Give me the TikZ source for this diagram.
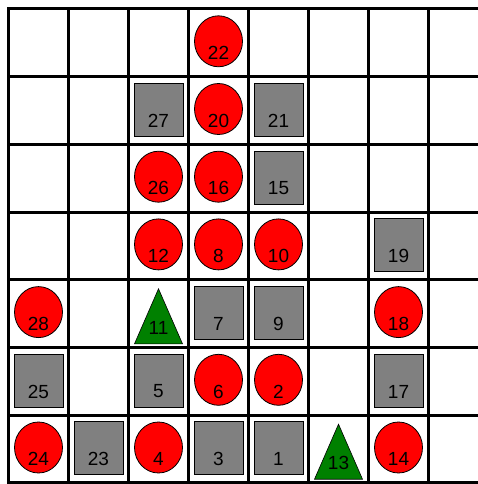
\documentclass[tikz,border=0pt]{standalone}
\usepackage{fontspec}
\setmainfont{Liberation Sans}
\usetikzlibrary{shapes.geometric}
\begin{document}
\begin{tikzpicture}[x=1pt,y=-1pt,
  gridline/.style={line width=3pt,black},
  redball/.style={ellipse,draw=black,line width=0.8pt,fill=red,minimum width=48pt,minimum height=51pt,inner sep=0pt},
  graybox/.style={rectangle,draw=black,line width=0.8pt,fill={rgb,255:red,128;green,128;blue,128},minimum width=49pt,minimum height=53pt,inner sep=0pt},
  greentri/.style={draw=black,line width=0.6pt,fill={rgb,255:red,0;green,128;blue,0}},
  num/.style={font=\fontsize{19}{19}\selectfont,inner sep=0pt,text=black}]
\useasboundingbox (0,0) rectangle (478,484);
\fill[white] (0,0) rectangle (478,484);
\begin{scope}
\clip (0,0) rectangle (478,484);
\foreach \i in {0,...,8} \draw[gridline] (8.5+60*\i, 7.5) -- (8.5+60*\i, 490);
\foreach \j in {0,...,7} \draw[gridline] (7, 9+67.7*\j) -- (490, 9+67.7*\j);
\end{scope}
% red balls
\foreach \c/\r/\n in {3/0/22, 3/1/20, 2/2/26, 3/2/16, 2/3/12, 3/3/8, 4/3/10, 0/4/28, 6/4/18, 3/5/6, 4/5/2, 0/6/24, 2/6/4, 6/6/14} {
  \node[redball] (n\n) at (38.5+60*\c, 41.3+67.7*\r) {};
  \node[num] (l\n) at (38.5+60*\c, 53+67.7*\r) {\n};
}
% gray boxes
\foreach \c/\r/\n in {2/1/27, 4/1/21, 4/2/15, 6/3/19, 3/4/7, 4/4/9, 0/5/25, 2/5/5, 6/5/17, 1/6/23, 3/6/3, 4/6/1} {
  \node[graybox] (n\n) at (38.5+60*\c, 42+67.7*\r) {};
  \node[num] (l\n) at (38.5+60*\c, 53+67.7*\r) {\n};
}
% green triangles
\foreach \c/\r/\n in {2/4/11, 5/6/13} {
  \draw[greentri] (14.5+60*\c, 73+67.7*\r) -- (38.5+60*\c, 18+67.7*\r) -- (62.5+60*\c, 73+67.7*\r) -- cycle;
  \node[num] (l\n) at (38.5+60*\c, 57+67.7*\r) {\n};
}
\end{tikzpicture}
\end{document}
